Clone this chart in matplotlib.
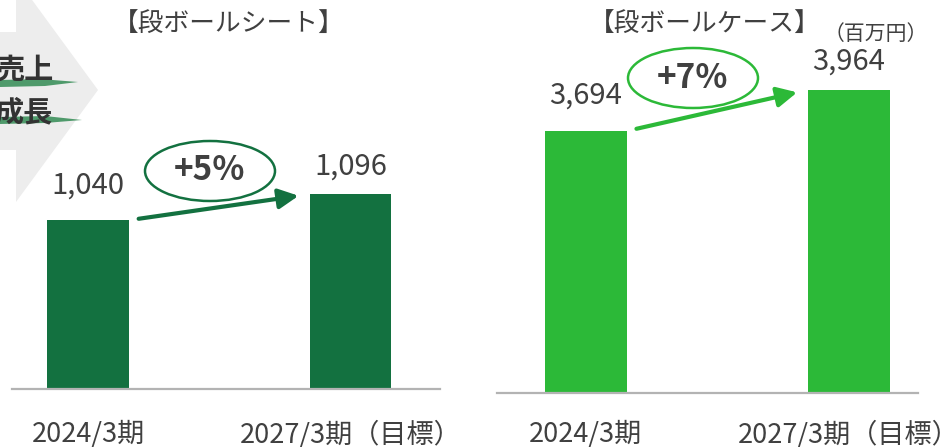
import matplotlib
matplotlib.use('Agg')
import matplotlib.pyplot as plt
from matplotlib.patches import Ellipse, Polygon

plt.rcParams['font.family'] = ['Noto Sans CJK JP', 'DejaVu Sans']

# ---- data ----
categories = ['2024/3期', '2027/3期（目標）']
sheet_values = [1040, 1096]
case_values = [3694, 3964]
growth_labels = ['+5%', '+7%']
titles = ['【段ボールシート】', '【段ボールケース】']
unit_label = '（百万円）'
side_label = ['売上', '成長']

W, H = 949, 447
fig = plt.figure(figsize=(W / 100, H / 100), dpi=100)

TXT = '#404040'
DARK = '#137140'
BRIGHT = '#2cb938'
AXIS = '#b3b3b3'


def px_axes(x0, y0, x1, y1):
    return fig.add_axes([x0 / W, 1 - y1 / H, (x1 - x0) / W, (y1 - y0) / H])


# background overlay (pixel coords) for decorations
ov = px_axes(0, 0, W, H)
ov.set_xlim(0, W)
ov.set_ylim(H, 0)
ov.axis('off')

# grey chevron on the left edge
ov.add_patch(Polygon([(0, 32), (16, 32), (16, -22), (98, 90), (16, 202), (16, 150), (0, 150)],
                     closed=True, facecolor='#ededed', edgecolor='none', zorder=0))
# green brush strokes
ov.add_patch(Polygon([(0, 80), (40, 79), (78, 82), (45, 86), (0, 87)], closed=True,
                     facecolor='#4f9a6b', edgecolor='none', zorder=1))
ov.add_patch(Polygon([(0, 117), (45, 116), (82, 120), (45, 123), (0, 124)], closed=True,
                     facecolor='#4f9a6b', edgecolor='none', zorder=1))
ov.text(53, 70, side_label[0], ha='right', va='center', fontsize=21, fontweight='bold',
        color='#333333', zorder=2)
ov.text(53, 112, side_label[1], ha='right', va='center', fontsize=21, fontweight='bold',
        color='#333333', zorder=2)

# titles
ov.text(229, 25, titles[0], ha='center', va='center', fontsize=18.5, color=TXT)
ov.text(705, 25, titles[1], ha='center', va='center', fontsize=18.5, color=TXT)
ov.text(876, 34, unit_label, ha='center', va='center', fontsize=15, color=TXT)

# growth ellipses
for (cx, cy), col, lab in [((210, 171), DARK, growth_labels[0]),
                           ((693, 78), BRIGHT, growth_labels[1])]:
    ov.add_patch(Ellipse((cx, cy), 130, 60, facecolor='none', edgecolor=col, lw=1.8))
    ov.text(cx, cy, lab, ha='center', va='center', fontsize=24, fontweight='bold', color=TXT)


def bar_panel(box, values, ylim, xlim, color, pad):
    ax = px_axes(*box)
    ax.patch.set_visible(False)
    bw = 0.312
    x = list(range(len(values)))
    ax.bar(x, values, width=bw, color=color, zorder=2)
    ax.set_ylim(*ylim)
    ax.set_xlim(*xlim)
    for s in ['left', 'right', 'top']:
        ax.spines[s].set_visible(False)
    ax.spines['bottom'].set_color(AXIS)
    ax.spines['bottom'].set_linewidth(1.6)
    ax.set_yticks([])
    ax.set_xticks(x, categories)
    ax.tick_params(axis='x', length=0, pad=pad, labelsize=19.5, labelcolor=TXT)
    for i, v in enumerate(values):
        off = 20 if i == 0 else 13
        ax.annotate(f'{v:,}', (i, v), xytext=(0, off), textcoords='offset pixels',
                    ha='center', va='bottom', fontsize=21, color=TXT)
    ax.annotate('', xy=(1 - bw / 2, values[1]), xytext=(bw / 2, values[0]),
                arrowprops=dict(arrowstyle='-|>,head_length=0.6,head_width=0.3',
                                color=color, lw=3, mutation_scale=20,
                                shrinkA=7, shrinkB=8))
    return ax


bar_panel((12, 30, 440, 389), sheet_values, (676, 1450), (-0.29, 1.341), DARK, 23)
bar_panel((497, 30, 918, 393), case_values, (1970, 4358), (-0.338, 1.262), BRIGHT, 20)

fig.savefig('out.png', dpi=100)
